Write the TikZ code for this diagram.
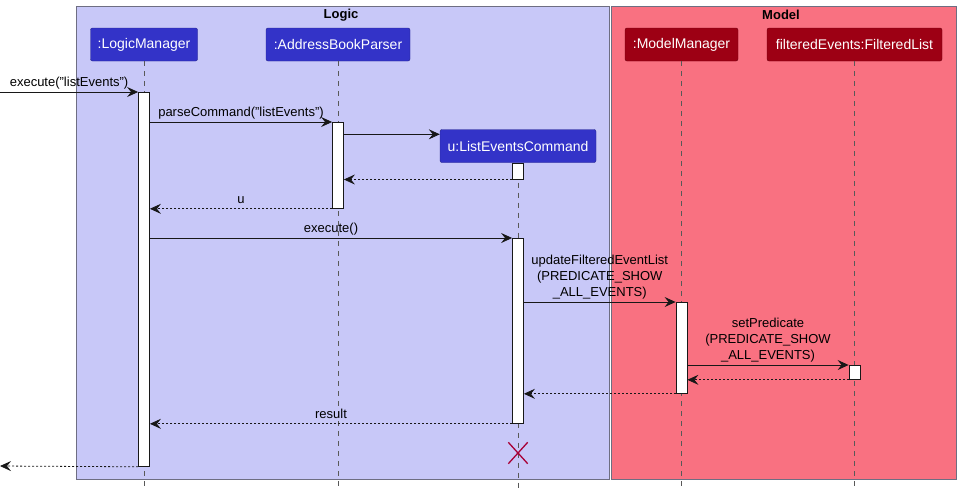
\documentclass[tikz,border=0pt]{standalone}
\usepackage{fontspec}
\setmainfont{Liberation Sans}
\usetikzlibrary{arrows.meta,shapes.misc}
\definecolor{logicbg}{RGB}{200,200,248}
\definecolor{modelbg}{RGB}{249,113,129}
\definecolor{logichd}{RGB}{51,51,200}
\definecolor{modelhd}{RGB}{157,0,20}
\definecolor{grpline}{RGB}{110,110,130}
\definecolor{xred}{RGB}{168,0,54}
\definecolor{arrowc}{RGB}{24,24,24}
\tikzset{
  grp/.style={draw=grpline, line width=0.8pt, anchor=north west, inner sep=0},
  grptitle/.style={font=\bfseries\fontsize{13}{15}\selectfont},
  part/.style={draw=#1!70!black, fill=#1, text=white, rounded corners=2pt, minimum height=33, inner xsep=0, inner ysep=0, font=\fontsize{14}{16}\selectfont},
  life/.style={draw=black!65, line width=0.6pt, dash pattern=on 5pt off 5pt},
  act/.style={draw=arrowc, fill=white, line width=0.8pt, minimum width=11, anchor=north, inner sep=0},
  msg/.style={draw=arrowc, line width=0.8pt, -{Stealth[length=11pt,width=10pt,inset=4pt]}},
  ret/.style={msg, dash pattern=on 2pt off 2pt},
  lbl/.style={font=\fontsize{13}{16}\selectfont, align=center, inner sep=2pt, text height=10pt, text depth=3pt, text=black}
}
\begin{document}
\begin{tikzpicture}[x=1pt,y=-1pt]
\useasboundingbox (0,0) rectangle (960,491);
\fill[white] (0,0) rectangle (960,491);
% groups
\node[grp, fill=logicbg, minimum width=533, minimum height=473] (logic) at (76,6) {};
\node[grp, fill=modelbg, minimum width=345, minimum height=473] (model) at (611,6) {};
\node[grptitle] (logicT) at (341,15) {Logic};
\node[grptitle] (modelT) at (781,15) {Model};
% participants
\node[part=logichd, minimum width=107] (lm) at (144,44.5) {:LogicManager};
\node[part=logichd, minimum width=144] (abp) at (338,44.5) {:AddressBookParser};
\node[part=logichd, minimum width=156] (lec) at (518,146) {u:ListEventsCommand};
\node[part=modelhd, minimum width=113] (mm) at (681.5,44.5) {:ModelManager};
\node[part=modelhd, minimum width=175] (fl) at (854.5,44.5) {filteredEvents:FilteredList};
% lifelines
\coordinate (bot) at (0,489);
\draw[life] (lm.south) -- (lm.south |- bot);
\draw[life] (abp.south) -- (abp.south |- bot);
\draw[life] (lec.south) -- (lec.south |- bot);
\draw[life] (mm.south) -- (mm.south |- bot);
\draw[life] (fl.south) -- (fl.south |- bot);
% activations
\node[act, minimum height=374] (lmA) at (lm.south |- 0,92) {};
\node[act, minimum height=86] (abpA) at (abp.south |- 0,122) {};
\node[act, minimum height=16] (lecA1) at (lec.south) {};
\node[act, minimum height=185] (lecA2) at (lec.south |- 0,238) {};
\node[act, minimum height=91] (mmA) at (mm.south |- 0,302) {};
\node[act, minimum height=14] (flA) at (fl.south |- 0,365) {};
% messages
\coordinate (in) at (0,92);
\coordinate (out) at (0,466);
\draw[msg] (in) -- (lmA.north west) node[lbl, midway, above] {execute("listEvents")};
\draw[msg] (lmA.east |- abpA.north) -- (abpA.north west) node[lbl, midway, above] {parseCommand("listEvents")};
\coordinate (cr) at ([yshift=-5pt]lec.north west);
\draw[msg] (abpA.east |- cr) -- (cr);
\draw[ret] (lecA1.south west) -- (abpA.east |- lecA1.south);
\draw[ret] (abpA.south west) -- (lmA.east |- abpA.south) node[lbl, midway, above] {u};
\draw[msg] (lmA.east |- lecA2.north) -- (lecA2.north west) node[lbl, midway, above] {execute()};
\draw[msg] (lecA2.east |- mmA.north) -- (mmA.north west) node[lbl, midway, above] {updateFilteredEventList\\(PREDICATE\_SHOW\\\_ALL\_EVENTS)};
\draw[msg] (mmA.east |- flA.north) -- (flA.north west) node[lbl, midway, above] {setPredicate\\(PREDICATE\_SHOW\\\_ALL\_EVENTS)};
\draw[ret] (flA.south west) -- (mmA.east |- flA.south);
\draw[ret] (mmA.south west) -- (lecA2.east |- mmA.south);
\draw[ret] (lecA2.south west) -- (lmA.east |- lecA2.south) node[lbl, midway, above] {result};
\draw[ret] (lmA.south west) -- (out);
% destroy
\node[cross out, draw=xred, line width=1.3pt, minimum width=18, minimum height=20, inner sep=0] (destroy) at (lec.south |- 0,453) {};
\end{tikzpicture}
\end{document}
